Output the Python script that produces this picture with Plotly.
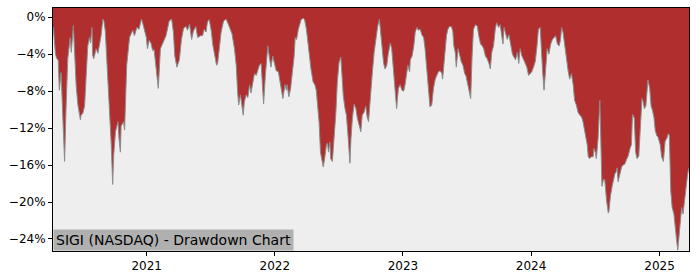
import plotly.graph_objects as go

dates = [
"2020-04-09","2020-04-10","2020-04-16","2020-04-19","2020-04-24","2020-04-27","2020-05-02","2020-05-07","2020-05-12","2020-05-16",
"2020-05-21","2020-05-28","2020-05-31","2020-06-06","2020-06-10","2020-06-14","2020-06-19","2020-06-26","2020-06-28","2020-07-03",
"2020-07-08","2020-07-13","2020-07-17","2020-07-22","2020-07-25","2020-07-29","2020-07-31","2020-08-03","2020-08-10","2020-08-15",
"2020-08-19","2020-08-24","2020-08-29","2020-09-01","2020-09-05","2020-09-09","2020-09-15","2020-09-22","2020-09-26","2020-09-29",
"2020-10-04","2020-10-11","2020-10-14","2020-10-18","2020-10-20","2020-10-27","2020-10-30","2020-11-02","2020-11-05","2020-11-13",
"2020-11-18","2020-11-22","2020-11-27","2020-12-04","2020-12-10","2020-12-17","2020-12-21","2020-12-26","2020-12-31",
"2021-01-03","2021-01-08","2021-01-13","2021-01-18","2021-01-22","2021-01-27","2021-02-03","2021-02-09","2021-02-15","2021-02-25",
"2021-03-06","2021-03-13","2021-03-18","2021-03-22","2021-03-28","2021-04-04","2021-04-10","2021-04-16","2021-04-23","2021-04-27",
"2021-05-03","2021-05-09","2021-05-14","2021-05-21","2021-05-26","2021-06-03","2021-06-09","2021-06-14","2021-06-19","2021-06-23",
"2021-06-28","2021-07-04","2021-07-08","2021-07-13","2021-07-19","2021-07-22","2021-07-27","2021-08-01","2021-08-08","2021-08-15",
"2021-08-22","2021-08-27","2021-09-01","2021-09-08","2021-09-13","2021-09-17","2021-09-20","2021-09-25","2021-09-29","2021-10-03",
"2021-10-06","2021-10-11","2021-10-16","2021-10-21","2021-10-25","2021-10-30","2021-11-04","2021-11-09","2021-11-13","2021-11-18",
"2021-11-23","2021-11-27","2021-11-30","2021-12-05","2021-12-12","2021-12-17","2021-12-21","2021-12-26","2021-12-30",
"2022-01-05","2022-01-11","2022-01-16","2022-01-21","2022-01-24","2022-01-30","2022-02-03","2022-02-05","2022-02-10","2022-02-15",
"2022-02-20","2022-02-25","2022-02-28","2022-03-04","2022-03-09","2022-03-13","2022-03-17","2022-03-23","2022-03-27","2022-04-01",
"2022-04-05","2022-04-10","2022-04-14","2022-04-20","2022-04-25","2022-04-29","2022-05-03","2022-05-07","2022-05-11","2022-05-15",
"2022-05-19","2022-05-23","2022-05-28","2022-05-31","2022-06-03","2022-06-07","2022-06-09","2022-06-14","2022-06-19","2022-06-24",
"2022-06-28","2022-07-03","2022-07-08","2022-07-11","2022-07-15","2022-07-20","2022-07-24","2022-07-29","2022-08-03","2022-08-06",
"2022-08-10","2022-08-15","2022-08-20","2022-08-24","2022-08-29","2022-09-03","2022-09-07","2022-09-12","2022-09-17","2022-09-21",
"2022-09-25","2022-10-02","2022-10-06","2022-10-11","2022-10-16","2022-10-21","2022-10-26","2022-10-30","2022-11-02","2022-11-07",
"2022-11-11","2022-11-16","2022-11-20","2022-11-26","2022-11-30","2022-12-05","2022-12-09","2022-12-14","2022-12-19","2022-12-24",
"2022-12-29",
"2023-01-03","2023-01-07","2023-01-11","2023-01-15","2023-01-20","2023-01-22","2023-01-27","2023-02-01","2023-02-05","2023-02-10",
"2023-02-14","2023-02-19","2023-02-24","2023-03-01","2023-03-05","2023-03-10","2023-03-15","2023-03-19","2023-03-24","2023-03-29",
"2023-04-03","2023-04-08","2023-04-12","2023-04-17","2023-04-22","2023-04-24","2023-04-29","2023-05-05","2023-05-09","2023-05-14",
"2023-05-19","2023-05-23","2023-05-26","2023-05-30","2023-06-02","2023-06-07","2023-06-11","2023-06-16","2023-06-21","2023-06-26",
"2023-06-30","2023-07-05","2023-07-10","2023-07-13","2023-07-17","2023-07-21","2023-07-27","2023-08-01","2023-08-05","2023-08-10",
"2023-08-15","2023-08-19","2023-08-24","2023-08-29","2023-09-03","2023-09-07","2023-09-11","2023-09-16","2023-09-21","2023-09-25",
"2023-10-01","2023-10-05","2023-10-08","2023-10-13","2023-10-16","2023-10-20","2023-10-25","2023-10-30","2023-11-04","2023-11-09",
"2023-11-13","2023-11-18","2023-11-23","2023-11-27","2023-12-01","2023-12-06","2023-12-11","2023-12-15","2023-12-20","2023-12-25",
"2023-12-29",
"2024-01-03","2024-01-08","2024-01-13","2024-01-18","2024-01-22","2024-01-27","2024-01-30","2024-02-03","2024-02-07","2024-02-12",
"2024-02-16","2024-02-21","2024-02-26","2024-03-02","2024-03-07","2024-03-11","2024-03-16","2024-03-21","2024-03-25","2024-03-28",
"2024-04-01","2024-04-06","2024-04-11","2024-04-16","2024-04-20","2024-04-25","2024-04-30","2024-05-04","2024-05-09","2024-05-14",
"2024-05-19","2024-05-24","2024-05-28","2024-05-31","2024-06-04","2024-06-09","2024-06-12","2024-06-16","2024-06-21","2024-06-26",
"2024-06-28","2024-07-02","2024-07-05","2024-07-10","2024-07-15","2024-07-17","2024-07-21","2024-07-25","2024-07-29","2024-08-03",
"2024-08-08","2024-08-10","2024-08-14","2024-08-19","2024-08-24","2024-08-27","2024-08-30","2024-09-02","2024-09-05","2024-09-10",
"2024-09-15","2024-09-19","2024-09-24","2024-09-29","2024-10-04","2024-10-09","2024-10-13","2024-10-16","2024-10-21","2024-10-25",
"2024-10-29","2024-11-03","2024-11-07","2024-11-12","2024-11-15","2024-11-19","2024-11-23","2024-11-27","2024-11-29","2024-12-04",
"2024-12-08","2024-12-12","2024-12-16","2024-12-20","2024-12-24","2024-12-28",
"2025-01-03","2025-01-07","2025-01-12","2025-01-17","2025-01-22","2025-01-26","2025-01-29","2025-02-02","2025-02-06","2025-02-11",
"2025-02-14","2025-02-18","2025-02-22","2025-02-26","2025-03-01","2025-03-05","2025-03-09","2025-03-12","2025-03-17","2025-03-22",
"2025-03-26",
]

drawdown_pct = [
-1.2,-1.1,-4.0,-4.4,-4.7,-7.9,-6.0,-11.5,-15.6,-10.0,
-4.5,-2.2,-3.8,-0.9,-4.2,-7.4,-9.5,-11.1,-10.6,-10.4,
-9.6,-6.6,-3.1,-2.2,-2.8,-1.1,-4.1,-4.5,-3.4,-3.9,
-3.0,-2.0,-0.2,-0.4,-1.5,-4.2,-8.1,-13.8,-18.1,-14.9,
-12.4,-11.3,-13.1,-14.6,-11.8,-11.3,-12.2,-9.6,-5.2,-2.2,
-1.7,-1.4,-2.0,-1.1,-1.3,-0.2,-0.7,-1.5,-2.2,
-3.4,-2.5,-2.8,-3.6,-3.5,-5.2,-7.7,-3.4,-2.9,-2.0,
-0.4,-0.2,-1.6,-4.2,-5.4,-4.6,-2.4,-1.2,-1.0,-1.4,
-0.75,-2.4,-1.5,-1.0,-2.2,-2.0,-2.0,-1.3,-1.6,-0.5,
-0.25,-1.5,-2.9,-3.8,-5.2,-5.0,-3.4,-1.6,-0.4,-0.2,
-0.8,-1.3,-1.8,-3.4,-5.2,-8.1,-9.5,-8.4,-9.5,-10.6,
-9.2,-8.4,-8.7,-7.3,-8.2,-7.1,-6.1,-6.3,-5.8,-5.2,
-5.0,-7.3,-9.4,-6.3,-3.1,-4.5,-5.4,-4.2,-5.0,
-5.8,-5.9,-7.0,-8.5,-8.8,-7.3,-7.9,-7.3,-8.6,-7.7,
-5.8,-4.2,-2.2,-2.4,-1.3,-0.6,-0.25,-0.1,-0.3,-1.3,
-2.8,-4.2,-5.6,-7.0,-7.3,-7.9,-9.5,-11.3,-14.6,-15.6,
-16.2,-15.3,-13.8,-13.6,-14.6,-13.5,-15.3,-15.6,-13.1,-10.3,
-7.0,-4.9,-4.3,-6.0,-8.5,-9.9,-10.6,-13.1,-15.8,-13.1,
-10.9,-9.4,-9.9,-10.9,-11.7,-12.4,-10.6,-10.3,-9.6,-10.8,
-11.3,-7.3,-5.9,-3.8,-2.4,-1.0,-0.25,-2.0,-3.4,-5.0,
-5.6,-5.2,-4.0,-2.8,-3.4,-5.9,-7.7,-9.9,-7.7,-7.3,
-7.9,
-8.0,-7.3,-6.3,-5.2,-5.9,-4.6,-4.2,-3.1,-1.6,-1.1,
-1.4,-1.3,-1.9,-2.2,-3.4,-5.4,-7.7,-9.7,-9.5,-7.7,
-6.7,-6.3,-5.9,-5.8,-6.1,-6.7,-4.6,-2.0,-1.3,-1.0,
-1.0,-1.5,-3.1,-3.8,-5.4,-3.4,-4.0,-4.8,-5.2,-6.1,
-6.4,-7.3,-8.4,-8.8,-4.2,-1.3,-0.8,-1.0,-2.0,-2.9,
-3.1,-3.4,-4.2,-4.5,-5.0,-5.6,-3.8,-3.1,-1.3,-0.6,
-1.1,-0.8,-1.6,-2.9,-1.1,-1.6,-2.4,-1.9,-2.8,-4.0,
-4.3,-4.6,-3.8,-5.0,-3.4,-4.2,-4.6,-5.0,-5.4,-6.3,
-6.1,
-5.9,-5.4,-4.8,-3.1,-1.3,-1.1,-3.4,-5.9,-7.9,-4.8,
-3.4,-4.0,-2.9,-2.4,-2.2,-2.0,-2.9,-3.1,-2.4,-1.1,
-1.6,-3.1,-4.8,-5.9,-6.7,-6.1,-7.3,-9.0,-9.5,-10.3,
-10.6,-10.8,-11.3,-12.0,-13.1,-13.8,-15.1,-15.3,-15.1,-15.1,
-14.2,-14.6,-15.3,-13.1,-9.0,-13.5,-18.3,-17.6,-17.6,-19.8,
-21.2,-21.0,-19.4,-18.3,-17.6,-16.9,-16.8,-16.3,-17.8,-16.9,
-16.2,-16.0,-15.9,-15.4,-15.0,-14.2,-13.8,-10.5,-10.9,-14.6,
-15.3,-15.0,-11.8,-8.8,-9.1,-9.9,-9.6,-7.3,-6.8,-7.7,
-9.6,-10.1,-10.8,-12.3,-12.8,-13.0,
-13.8,-15.1,-15.6,-13.4,-13.1,-12.6,-12.8,-18.8,-20.6,-21.3,
-22.8,-23.9,-25.2,-23.5,-21.8,-20.6,-21.3,-20.2,-18.8,-17.0,
-16.3,
]

y_ticks = [0, -4, -8, -12, -16, -20, -24]
y_tick_labels = [("\u2212" if v < 0 else "") + f"{abs(v)}%" for v in y_ticks]
title_text = "SIGI (NASDAQ) - Drawdown Chart"

Y_RANGE = [-25.3, 1.0]
FILL_FLOOR = -60

RED = "#b02e2e"
GRAY_BG = "#eeeeee"

fig = go.Figure()
fig.add_trace(go.Scatter(
    x=dates, y=[FILL_FLOOR] * len(dates), mode="lines",
    line=dict(width=0, color=GRAY_BG), hoverinfo="skip", showlegend=False,
))
fig.add_trace(go.Scatter(
    x=dates, y=drawdown_pct, mode="lines", fill="tonexty", fillcolor=GRAY_BG,
    line=dict(color="#8c8c8c", width=1), showlegend=False,
))

fig.update_layout(
    width=700, height=280,
    margin=dict(l=53, r=11, t=7, b=28),
    paper_bgcolor="white", plot_bgcolor=RED,
    font=dict(family="DejaVu Sans", size=12, color="black"),
    xaxis=dict(
        type="date", range=[dates[0], dates[-1]],
        tick0="2021-01-01", dtick="M12", tickformat="%Y",
        ticks="outside", ticklen=4, tickcolor="black",
        showline=True, linecolor="black", linewidth=1, mirror=True,
        showgrid=False, zeroline=False,
    ),
    yaxis=dict(
        range=Y_RANGE, tickmode="array", tickvals=y_ticks, ticktext=y_tick_labels,
        ticks="outside", ticklen=4, tickcolor="black",
        showline=True, linecolor="black", linewidth=1, mirror=True,
        showgrid=False, zeroline=False,
    ),
    annotations=[dict(
        text=title_text, xref="paper", yref="paper", x=0, y=0,
        xanchor="left", yanchor="bottom", showarrow=False,
        bgcolor="#b0b0b0", borderpad=2,
        font=dict(family="DejaVu Sans", size=14, color="black"),
    )],
)

fig.write_html("out.html")
